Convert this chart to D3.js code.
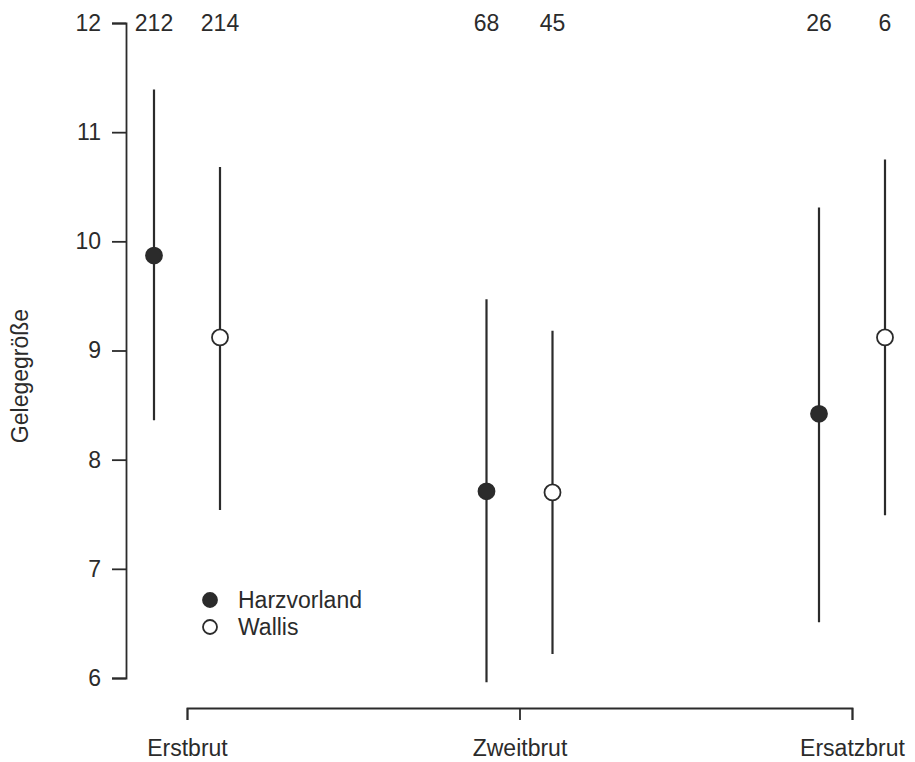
<!DOCTYPE html>
<html>
<head>
<meta charset="utf-8">
<script src="https://cdn.jsdelivr.net/npm/d3@7"></script>
<style>
  html, body { margin: 0; padding: 0; background: #fff; }
  svg text { font-family: "Liberation Sans", Arial, Helvetica, sans-serif; fill: #2b2b2b; }
</style>
</head>
<body>
<svg id="chart" width="915" height="762"></svg>
<script>
// Clutch size by brood type for two study regions
const broods = ["Erstbrut", "Zweitbrut", "Ersatzbrut"];
const regions = ["Harzvorland", "Wallis"];

// mean clutch size per brood, one array per region
const meanHarzvorland = [9.87, 7.71, 8.42];
const meanWallis      = [9.12, 7.70, 9.12];

// upper and lower whisker ends
const highHarzvorland = [11.39, 9.47, 10.31];
const lowHarzvorland  = [8.36, 5.96, 6.51];
const highWallis      = [10.68, 9.18, 10.75];
const lowWallis       = [7.54, 6.22, 7.49];

// sample sizes printed along the top
const nHarzvorland = [212, 68, 26];
const nWallis      = [214, 45, 6];

const yTicks = [6, 7, 8, 9, 10, 11, 12];

const svg = d3.select("#chart");
const ink = "#2b2b2b";
const fontSize = 23;

const x = d3.scalePoint().domain(broods).range([187, 852]);
const offset = d3.scalePoint().domain(regions).range([-33, 33]);
const y = d3.scaleLinear().domain([6, 12]).range([678, 23]);

const rows = [];
broods.forEach((b, i) => {
  rows.push({ brood: b, region: "Harzvorland", mean: meanHarzvorland[i], hi: highHarzvorland[i], lo: lowHarzvorland[i], n: nHarzvorland[i] });
  rows.push({ brood: b, region: "Wallis", mean: meanWallis[i], hi: highWallis[i], lo: lowWallis[i], n: nWallis[i] });
});
const px = d => x(d.brood) + offset(d.region);

// y axis
const yAxis = svg.append("g")
  .attr("transform", "translate(126,0)")
  .call(d3.axisLeft(y).tickValues(yTicks).tickFormat(d3.format("d")).tickSize(14).tickPadding(11));
yAxis.selectAll("path, line").attr("stroke", ink).attr("stroke-width", 1.8);
yAxis.selectAll("text").attr("font-size", fontSize).style("fill", ink);

// x axis
const xAxis = svg.append("g")
  .attr("transform", "translate(0,708)")
  .call(d3.axisBottom(x).tickSize(12).tickPadding(20));
xAxis.selectAll("path, line").attr("stroke", ink).attr("stroke-width", 1.8);
xAxis.selectAll("text").attr("font-size", fontSize).style("fill", ink);

// y label
svg.append("text")
  .attr("transform", "translate(28,376) rotate(-90)")
  .attr("text-anchor", "middle")
  .attr("font-size", fontSize)
  .text("Gelegegröße");

// whiskers
svg.append("g").selectAll("line")
  .data(rows).join("line")
  .attr("x1", px).attr("x2", px)
  .attr("y1", d => y(d.hi)).attr("y2", d => y(d.lo))
  .attr("stroke", ink).attr("stroke-width", 2.2);

// means
svg.append("g").selectAll("circle")
  .data(rows).join("circle")
  .attr("cx", px).attr("cy", d => y(d.mean))
  .attr("r", 8)
  .attr("fill", d => d.region === "Harzvorland" ? ink : "#fff")
  .attr("stroke", ink).attr("stroke-width", 1.8);

// sample sizes
svg.append("g").selectAll("text")
  .data(rows).join("text")
  .attr("x", px).attr("y", y(12))
  .attr("dy", "0.35em")
  .attr("text-anchor", "middle")
  .attr("font-size", fontSize)
  .text(d => d.n);

// legend
const legend = svg.append("g").attr("transform", "translate(210,600)");
regions.forEach((r, i) => {
  const g = legend.append("g").attr("transform", `translate(0,${i * 27})`);
  g.append("circle").attr("r", 7)
    .attr("fill", r === "Harzvorland" ? ink : "#fff")
    .attr("stroke", ink).attr("stroke-width", 1.8);
  g.append("text").attr("x", 28).attr("dy", "0.35em")
    .attr("font-size", fontSize).text(r);
});
</script>
</body>
</html>
